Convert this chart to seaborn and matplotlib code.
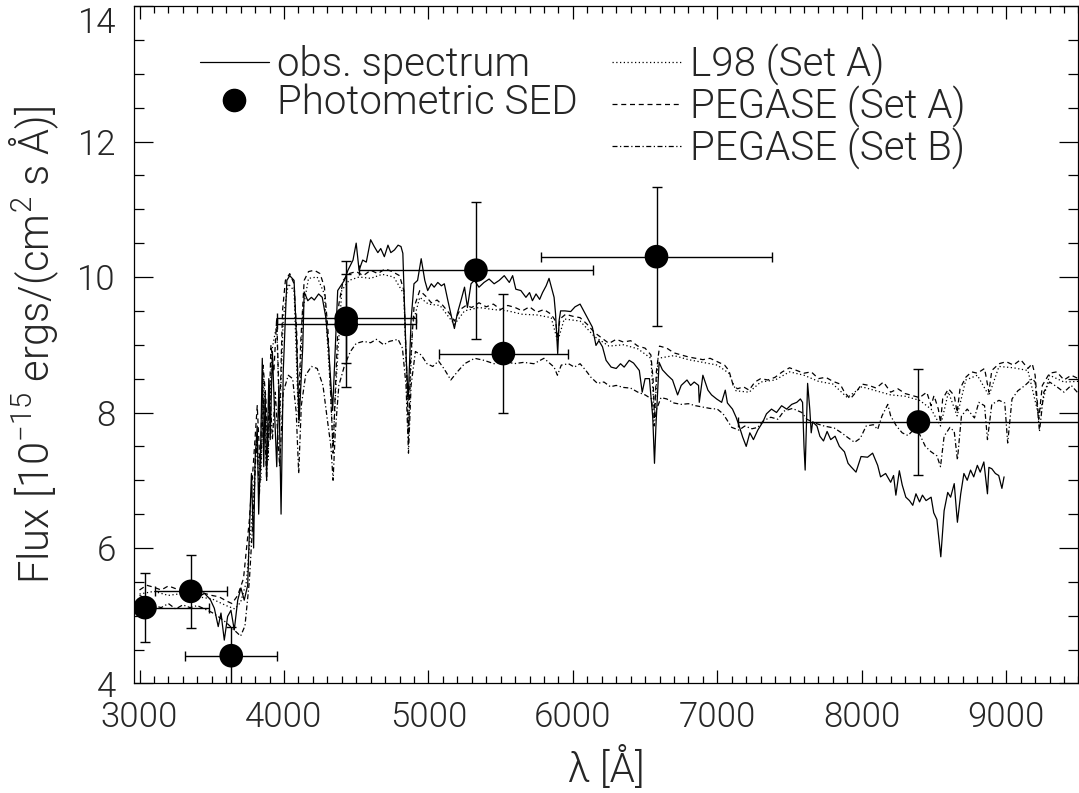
import matplotlib
matplotlib.use('Agg')
import matplotlib.pyplot as plt
from matplotlib import font_manager
from matplotlib.lines import Line2D
from matplotlib.ticker import MultipleLocator
import pandas as pd
import seaborn as sns


# observed spectrum
OBS_WL = [3300, 3350, 3400, 3450, 3490, 3518, 3545, 3564, 3587, 3610, 3633, 3656,
          3680, 3702, 3725, 3749, 3760, 3775, 3790, 3800, 3815, 3825, 3840, 3850,
          3860, 3870, 3880, 3895, 3905, 3920, 3935, 3950, 3965, 3980, 3995, 4020,
          4040, 4070, 4085, 4105, 4130, 4140, 4165, 4190, 4210, 4240, 4265, 4290,
          4310, 4337, 4372, 4418, 4443, 4478, 4500, 4520, 4545, 4570, 4600, 4625,
          4650, 4670, 4695, 4720, 4740, 4765, 4790, 4810, 4823, 4845, 4860, 4880,
          4900, 4925, 4950, 4975, 4995, 5020, 5040, 5065, 5090, 5110, 5135, 5160,
          5180, 5200, 5225, 5250, 5270, 5295, 5318, 5350, 5385, 5420, 5455, 5490,
          5525, 5560, 5583, 5605, 5640, 5675, 5700, 5720, 5745, 5770, 5790, 5815,
          5835, 5870, 5880, 5895, 5905, 5915, 5945, 5985, 6015, 6050, 6075, 6100,
          6135, 6160, 6180, 6205, 6230, 6265, 6300, 6330, 6355, 6390, 6420, 6460,
          6480, 6500, 6530, 6553, 6565, 6575, 6597, 6620, 6655, 6690, 6725, 6750,
          6790, 6815, 6840, 6870, 6875, 6900, 6935, 6960, 6995, 7030, 7055, 7070,
          7105, 7130, 7150, 7175, 7200, 7225, 7250, 7280, 7315, 7340, 7375, 7410,
          7445, 7480, 7515, 7550, 7575, 7590, 7600, 7608, 7625, 7640, 7650, 7660,
          7690, 7710, 7735, 7760, 7785, 7815, 7845, 7880, 7905, 7925, 7960, 7995,
          8040, 8075, 8110, 8130, 8165, 8200, 8220, 8236, 8260, 8280, 8305, 8330,
          8353, 8375, 8400, 8420, 8445, 8480, 8498, 8520, 8547, 8570, 8595, 8615,
          8640, 8662, 8685, 8707, 8730, 8753, 8775, 8800, 8820, 8845, 8870, 8880,
          8900, 8925, 8948, 8970, 8985]
OBS_FLUX = [5.30, 5.36, 5.27, 5.33, 5.24, 5.11, 4.84, 5.04, 4.64, 4.99, 5.08, 4.79,
            5.23, 5.41, 5.23, 5.45, 6.20, 7.10, 6.00, 7.30, 7.80, 6.50, 7.60, 8.80,
            7.20, 8.30, 7.00, 8.50, 7.60, 8.90, 8.00, 7.20, 8.40, 6.50, 8.60, 9.95,
            10.02, 9.95, 9.20, 7.88, 8.96, 9.78, 9.65, 9.70, 9.66, 9.75, 9.70, 9.40,
            8.92, 8.03, 9.80, 9.95, 10.10, 10.25, 10.50, 10.10, 10.25, 10.22, 10.55, 10.45,
            10.36, 10.42, 10.30, 10.47, 10.36, 10.40, 10.47, 10.45, 10.35, 8.87, 8.18, 9.36,
            9.90, 9.95, 10.27, 9.95, 9.80, 9.90, 9.85, 9.92, 9.87, 9.90, 9.65, 9.41,
            9.24, 9.46, 9.65, 9.85, 9.55, 9.90, 9.95, 9.85, 9.92, 9.97, 9.90, 9.95,
            10.02, 9.92, 10.02, 9.82, 9.80, 9.70, 9.77, 9.65, 9.75, 9.67, 9.77, 9.87,
            9.98, 9.70, 9.46, 8.87, 9.36, 9.50, 9.50, 9.49, 9.56, 9.60, 9.50, 9.40,
            9.26, 8.99, 9.06, 8.97, 8.77, 8.67, 8.65, 8.72, 8.67, 8.77, 8.73, 8.62,
            8.30, 8.50, 8.50, 7.93, 7.25, 7.80, 8.74, 8.63, 8.55, 8.48, 8.26, 8.40,
            8.48, 8.40, 8.45, 8.40, 8.15, 8.55, 8.33, 8.26, 8.20, 8.15, 8.33, 8.14,
            8.05, 7.93, 7.81, 7.64, 7.50, 7.70, 7.60, 7.74, 7.86, 7.98, 8.05, 8.00,
            8.10, 8.05, 8.12, 8.15, 8.20, 8.15, 7.50, 7.15, 8.43, 8.05, 7.70, 7.86,
            7.80, 7.65, 7.58, 7.72, 7.60, 7.65, 7.50, 7.42, 7.25, 7.20, 7.12, 7.35,
            7.34, 7.40, 7.22, 7.05, 7.10, 6.97, 7.07, 6.78, 7.14, 6.93, 6.75, 6.70,
            6.63, 6.80, 6.68, 6.78, 6.70, 6.75, 6.52, 6.42, 5.87, 6.55, 6.82, 6.75,
            6.95, 6.38, 6.80, 7.10, 7.00, 7.15, 7.05, 7.22, 7.12, 7.27, 6.80, 7.19,
            7.17, 7.10, 7.07, 6.88, 7.05]

# L98 (Set A)
L98_WL = [3000, 3100, 3200, 3300, 3400, 3500, 3600, 3660, 3700, 3740, 3780, 3810,
          3840, 3860, 3890, 3915, 3950, 3970, 3995, 4030, 4070, 4102, 4130, 4170,
          4230, 4280, 4320, 4340, 4360, 4400, 4450, 4520, 4600, 4680, 4760, 4830,
          4862, 4890, 4940, 5000, 5080, 5180, 5250, 5350, 5450, 5550, 5650, 5750,
          5850, 5895, 5940, 6050, 6150, 6250, 6350, 6450, 6540, 6565, 6590, 6700,
          6800, 6900, 7000, 7080, 7130, 7220, 7300, 7400, 7500, 7600, 7700, 7800,
          7900, 8000, 8100, 8200, 8300, 8400, 8480, 8545, 8600, 8660, 8720, 8800,
          8880, 8950, 9050, 9150, 9225, 9300, 9400, 9500]
L98_FLUX = [5.32, 5.36, 5.30, 5.33, 5.28, 5.25, 5.15, 5.10, 5.20, 5.50, 6.50, 7.60,
            7.00, 8.50, 7.30, 8.90, 9.30, 7.80, 9.40, 9.90, 9.80, 7.80, 9.50, 9.98,
            10.00, 9.75, 8.40, 7.50, 8.40, 9.80, 9.95, 10.00, 9.98, 10.04, 10.00, 9.75,
            7.70, 9.30, 9.70, 9.60, 9.58, 9.30, 9.50, 9.55, 9.52, 9.50, 9.45, 9.44,
            9.40, 9.05, 9.38, 9.35, 9.12, 8.98, 9.00, 8.94, 8.80, 7.95, 8.80, 8.84,
            8.78, 8.74, 8.70, 8.58, 8.32, 8.30, 8.45, 8.48, 8.60, 8.55, 8.46, 8.42,
            8.22, 8.38, 8.32, 8.26, 8.24, 8.18, 8.05, 7.80, 8.30, 7.95, 8.48, 8.55,
            8.25, 8.68, 8.66, 8.62, 7.95, 8.55, 8.45, 8.46]

# PEGASE (Set A)
PEGA_WL = [3000, 3050, 3100, 3150, 3200, 3250, 3300, 3350, 3400, 3450, 3500, 3550,
           3600, 3640, 3680, 3720, 3760, 3790, 3815, 3835, 3855, 3875, 3890, 3910,
           3930, 3950, 3970, 3990, 4010, 4040, 4070, 4090, 4102, 4115, 4140, 4170,
           4210, 4250, 4280, 4305, 4325, 4340, 4355, 4380, 4410, 4450, 4500, 4550,
           4600, 4650, 4700, 4750, 4800, 4830, 4850, 4862, 4875, 4900, 4940, 4980,
           5020, 5060, 5100, 5150, 5180, 5220, 5260, 5300, 5350, 5400, 5450, 5500,
           5550, 5600, 5650, 5700, 5750, 5800, 5850, 5880, 5895, 5910, 5950, 6000,
           6050, 6100, 6150, 6200, 6250, 6300, 6350, 6400, 6450, 6500, 6540, 6555,
           6565, 6578, 6600, 6650, 6700, 6750, 6800, 6850, 6900, 6950, 7000, 7050,
           7080, 7110, 7140, 7180, 7220, 7260, 7300, 7350, 7400, 7450, 7500, 7550,
           7600, 7650, 7700, 7750, 7800, 7850, 7880, 7920, 7960, 8000, 8050, 8100,
           8150, 8200, 8250, 8300, 8350, 8400, 8450, 8480, 8500, 8530, 8545, 8560,
           8600, 8640, 8660, 8680, 8720, 8760, 8800, 8850, 8880, 8900, 8950, 9000,
           9050, 9100, 9150, 9180, 9200, 9225, 9250, 9300, 9350, 9400, 9450, 9500]
PEGA_FLUX = [5.38, 5.45, 5.42, 5.38, 5.44, 5.40, 5.36, 5.42, 5.38, 5.33, 5.30, 5.28,
             5.22, 5.18, 5.30, 5.55, 6.40, 7.30, 8.10, 7.20, 8.70, 8.20, 7.40, 9.00,
             8.60, 9.40, 7.90, 9.50, 9.95, 10.05, 9.90, 9.10, 7.90, 9.00, 9.95, 10.08,
             10.10, 10.05, 9.85, 9.20, 8.20, 7.40, 8.30, 9.60, 9.95, 10.05, 10.08, 10.02,
             10.10, 10.05, 10.12, 10.08, 10.02, 9.80, 8.60, 7.60, 8.70, 9.55, 9.80, 9.72,
             9.62, 9.66, 9.58, 9.45, 9.35, 9.52, 9.58, 9.55, 9.62, 9.56, 9.60, 9.52,
             9.58, 9.55, 9.50, 9.56, 9.48, 9.52, 9.45, 9.35, 9.10, 9.38, 9.45, 9.42,
             9.40, 9.30, 9.18, 9.10, 9.02, 9.08, 9.04, 9.06, 8.98, 8.95, 8.85, 8.50,
             7.90, 8.60, 8.98, 8.95, 8.88, 8.85, 8.82, 8.80, 8.78, 8.80, 8.75, 8.70,
             8.62, 8.40, 8.35, 8.38, 8.33, 8.45, 8.50, 8.48, 8.52, 8.60, 8.66, 8.62,
             8.58, 8.60, 8.50, 8.52, 8.46, 8.42, 8.30, 8.20, 8.30, 8.42, 8.40, 8.36,
             8.45, 8.30, 8.35, 8.28, 8.25, 8.22, 8.30, 8.10, 8.25, 8.05, 7.85, 8.20,
             8.35, 8.25, 8.00, 8.35, 8.52, 8.60, 8.58, 8.65, 8.30, 8.62, 8.72, 8.75,
             8.70, 8.78, 8.65, 8.72, 8.55, 7.90, 8.40, 8.58, 8.60, 8.48, 8.55, 8.50]

# PEGASE (Set B)
PEGB_WL = [3000, 3050, 3100, 3150, 3200, 3250, 3300, 3350, 3400, 3450, 3500, 3550,
           3600, 3650, 3700, 3730, 3760, 3790, 3810, 3830, 3860, 3880, 3900, 3920,
           3940, 3970, 3995, 4030, 4060, 4085, 4102, 4120, 4150, 4190, 4230, 4270,
           4300, 4325, 4340, 4355, 4380, 4420, 4460, 4500, 4550, 4600, 4640, 4690,
           4730, 4790, 4820, 4845, 4862, 4880, 4910, 4950, 4990, 5030, 5070, 5110,
           5155, 5200, 5250, 5320, 5385, 5455, 5525, 5590, 5660, 5730, 5800, 5870,
           5893, 5920, 5970, 6010, 6050, 6090, 6125, 6170, 6215, 6260, 6300, 6350,
           6400, 6450, 6500, 6545, 6562, 6580, 6610, 6650, 6700, 6750, 6800, 6850,
           6900, 6950, 7000, 7040, 7070, 7100, 7150, 7190, 7240, 7280, 7320, 7370,
           7420, 7460, 7520, 7585, 7620, 7680, 7740, 7810, 7860, 7910, 7950, 7990,
           8030, 8080, 8110, 8140, 8180, 8200, 8240, 8280, 8320, 8360, 8400, 8440,
           8480, 8520, 8545, 8570, 8610, 8640, 8662, 8690, 8730, 8780, 8810, 8850,
           8870, 8900, 8950, 8990, 9010, 9040, 9080, 9130, 9180, 9200, 9230, 9260,
           9300, 9350, 9400, 9450, 9500]
PEGB_FLUX = [5.30, 5.25, 5.15, 5.12, 5.18, 5.10, 5.16, 5.12, 5.15, 5.10, 5.05, 4.98,
             4.90, 4.80, 4.70, 4.85, 5.50, 6.60, 7.60, 6.80, 8.20, 7.00, 8.40, 7.60,
             8.30, 7.20, 8.30, 8.55, 8.50, 8.00, 7.10, 8.10, 8.55, 8.68, 8.65, 8.40,
             7.90, 7.50, 7.00, 7.70, 8.40, 8.70, 8.90, 9.02, 9.05, 9.03, 9.08, 9.00,
             9.05, 9.08, 8.95, 8.40, 7.40, 8.40, 8.90, 8.85, 8.72, 8.68, 8.76, 8.64,
             8.48, 8.60, 8.72, 8.80, 8.77, 8.72, 8.77, 8.72, 8.74, 8.72, 8.80, 8.67,
             8.55, 8.70, 8.72, 8.67, 8.72, 8.62, 8.52, 8.43, 8.45, 8.38, 8.40, 8.37,
             8.36, 8.30, 8.26, 8.20, 7.80, 8.05, 8.22, 8.20, 8.14, 8.12, 8.13, 8.10,
             8.08, 8.06, 8.05, 7.98, 7.88, 7.78, 7.74, 7.80, 7.76, 7.78, 7.88, 7.93,
             7.90, 8.02, 8.06, 8.00, 7.90, 7.84, 7.80, 7.77, 7.70, 7.62, 7.56, 7.62,
             7.80, 7.82, 7.75, 7.95, 8.12, 7.95, 7.80, 7.70, 7.66, 7.75, 7.68, 7.50,
             7.42, 7.36, 7.20, 7.65, 7.78, 7.72, 7.30, 7.95, 8.05, 7.92, 8.15, 8.10,
             7.60, 8.12, 8.18, 8.14, 7.55, 8.20, 8.32, 8.40, 8.50, 8.45, 7.72, 8.30,
             8.45, 8.38, 8.30, 8.40, 8.28]

# photometric SED
SED_WL = [3038, 3355, 3635, 4431, 4431, 5329, 5519, 6579, 8392]
SED_FLUX = [5.12, 5.36, 4.41, 9.39, 9.30, 10.10, 8.87, 10.30, 7.86]
SED_WL_ERR = [441, 248, 320, 480, 480, 810, 444, 798, 1250]
SED_FLUX_ERR = [0.51, 0.54, 0.43, 0.66, 0.93, 1.01, 0.88, 1.03, 0.78]


def pick_font():
    light = set()
    for f in font_manager.fontManager.ttflist:
        w = f.weight if isinstance(f.weight, int) else font_manager.weight_dict.get(f.weight, 400)
        if w <= 300:
            light.add(f.name)
    for fam in ['Roboto', 'Lato', 'Open Sans', 'Noto Sans', 'Inter']:
        if fam in light:
            return fam, 300
    return 'Liberation Sans', 'normal'


sns.set_style('ticks')
FONT, WEIGHT = pick_font()
plt.rcParams['font.family'] = [FONT, 'DejaVu Sans']
plt.rcParams['font.weight'] = WEIGHT
plt.rcParams['axes.labelweight'] = WEIGHT
plt.rcParams['mathtext.fontset'] = 'custom'
plt.rcParams['mathtext.rm'] = FONT
plt.rcParams['mathtext.it'] = FONT
plt.rcParams['axes.linewidth'] = 0.9

FS = 25

fig = plt.figure(figsize=(10.79, 7.93), dpi=100)
ax = fig.add_axes([0.1242, 0.1381, 0.8753, 0.8543])

obs = pd.DataFrame({'wl': OBS_WL, 'flux': OBS_FLUX})
l98 = pd.DataFrame({'wl': L98_WL, 'flux': L98_FLUX})
pega = pd.DataFrame({'wl': PEGA_WL, 'flux': PEGA_FLUX})
pegb = pd.DataFrame({'wl': PEGB_WL, 'flux': PEGB_FLUX})

sns.lineplot(data=l98, x='wl', y='flux', ax=ax, color='black', lw=0.9,
             linestyle=(0, (1, 2)), sort=False, estimator=None)
sns.lineplot(data=pega, x='wl', y='flux', ax=ax, color='black', lw=0.9,
             linestyle=(0, (4, 3)), sort=False, estimator=None)
sns.lineplot(data=pegb, x='wl', y='flux', ax=ax, color='black', lw=0.9,
             linestyle=(0, (4, 2, 1, 2)), sort=False, estimator=None)
sns.lineplot(data=obs, x='wl', y='flux', ax=ax, color='black', lw=0.9,
             sort=False, estimator=None)

ax.errorbar(SED_WL, SED_FLUX, xerr=SED_WL_ERR, yerr=SED_FLUX_ERR, fmt='none',
            ecolor='black', elinewidth=1.0, capsize=3.3, capthick=1.0, zorder=4)
sns.scatterplot(x=SED_WL, y=SED_FLUX, ax=ax, s=290, color='black',
                edgecolor='none', zorder=5)

ax.set_xlim(2962, 9500)
ax.set_ylim(4, 14)
ax.xaxis.set_major_locator(MultipleLocator(1000))
ax.xaxis.set_minor_locator(MultipleLocator(100))
ax.yaxis.set_major_locator(MultipleLocator(2))
ax.yaxis.set_minor_locator(MultipleLocator(0.5))
ax.tick_params(which='both', direction='in', top=True, right=True,
               color='black', width=0.9, labelsize=FS)
ax.tick_params(axis='x', which='major', length=9.5, pad=12)
ax.tick_params(axis='x', which='minor', length=5)
ax.tick_params(axis='y', which='major', length=13.5, pad=13)
ax.tick_params(axis='y', which='minor', length=7)
for sp in ax.spines.values():
    sp.set_color('black')

ax.set_xlabel('λ [Å]', fontsize=29, labelpad=9)
ax.set_ylabel('Flux [10$^{-15}$ ergs/(cm$^2$ s Å)]', fontsize=30, labelpad=12)

handles = [Line2D([], [], color='black', lw=0.9),
           Line2D([], [], color='black', marker='o', markersize=16, linestyle='none'),
           Line2D([], [], linestyle='none'),
           Line2D([], [], color='black', lw=0.9, linestyle=(0, (1, 2))),
           Line2D([], [], color='black', lw=0.9, linestyle=(0, (4, 3))),
           Line2D([], [], color='black', lw=0.9, linestyle=(0, (4, 2, 1, 2)))]
labels = ['obs. spectrum', 'Photometric SED', '',
          'L98 (Set A)', 'PEGASE (Set A)', 'PEGASE (Set B)']
ax.legend(handles, labels, ncol=2, loc='upper left', bbox_to_anchor=(0.07, 0.945),
          frameon=False, fontsize=29, borderaxespad=0, borderpad=0,
          handlelength=1.7, handletextpad=0.22, columnspacing=0.85,
          labelspacing=0.0)

fig.canvas.draw()
for t in ax.yaxis.get_major_ticks():
    if abs(t.get_loc() - 14) < 1e-6:
        t.label1.set_verticalalignment('top')

fig.savefig('out.png', dpi=100)
